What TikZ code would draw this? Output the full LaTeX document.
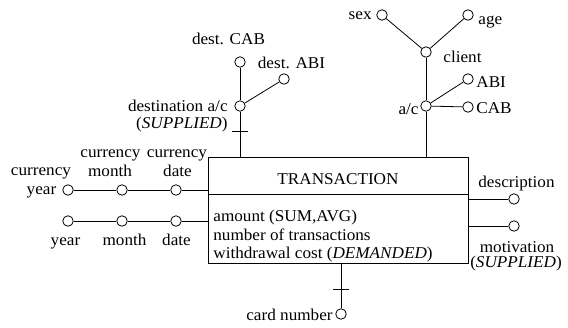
\documentclass[tikz,border=0pt]{standalone}
\usepackage{fontspec}
\setmainfont{Liberation Serif}[FakeStretch=1.04]
\begin{document}
\begin{tikzpicture}[x=1pt,y=-1pt,line width=0.8pt,
  attr/.style={circle,draw,fill=white,minimum size=10.5pt,inner sep=0pt},
  lbl/.style={inner sep=0pt,font=\fontsize{16.5}{19}\selectfont}]
\useasboundingbox (0,0) rectangle (568,327);
% entity box
\node[draw,anchor=north west,minimum width=260pt,minimum height=106pt,inner sep=0pt] (trans) at (208,157) {};
\coordinate (divL) at (208,194);
\coordinate (divR) at (468,194);
\draw (divL) -- (divR);
\node[lbl,anchor=base] (title) at (338,184) {TRANSACTION};
\node[lbl,anchor=base west] (a1) at (213,221) {amount (SUM,AVG)};
\node[lbl,anchor=base west] (a2) at (213,240) {number of transactions};
\node[lbl,anchor=base west] (a3) at (213,258) {withdrawal cost (\textit{DEMANDED})};
% destination a/c
\node[attr] (destac) at (240,106) {};
\node[attr] (destcab) at (240,62) {};
\node[attr] (destabi) at (284,79) {};
\draw (destac) -- (destac |- trans.north);
\draw (destac) -- (destcab);
\draw (destac) -- (destabi);
\coordinate (t1) at (240,131);
\draw ([xshift=-8pt]t1) -- ([xshift=8pt]t1);
\node[lbl,anchor=base] (ldestcab) at (228.5,44) {dest. CAB};
\node[lbl,anchor=base] (ldestabi) at (291.5,68) {dest. ABI};
\node[lbl,anchor=base east] (ldestac) at (228,111) {destination a/c};
\node[lbl,anchor=base east] (ldestsup) at (228,128) {(\textit{SUPPLIED})};
% client hierarchy
\node[attr] (ac) at (426,106) {};
\node[attr] (client) at (426,52) {};
\node[attr] (sex) at (382,15) {};
\node[attr] (age) at (468,15) {};
\node[attr] (abi) at (468,79) {};
\node[attr] (cab) at (468,107) {};
\draw (ac) -- (ac |- trans.north);
\draw (ac) -- (client);
\draw (client) -- (sex);
\draw (client) -- (age);
\draw (ac) -- (abi);
\draw (ac) -- (cab);
\node[lbl,anchor=base east] (lsex) at (372,19) {sex};
\node[lbl,anchor=base west] (lage) at (478,24) {age};
\node[lbl,anchor=base west] (lclient) at (443,62) {client};
\node[lbl,anchor=base west] (labi) at (476,87) {ABI};
\node[lbl,anchor=base west] (lcab) at (476,113) {CAB};
\node[lbl,anchor=base east] (lac) at (419,114) {a/c};
% currency dates
\node[attr] (cy) at (68,190) {};
\node[attr] (cm) at (122,190) {};
\node[attr] (cd) at (176,190) {};
\draw (cy) -- (cm);
\draw (cm) -- (cd);
\draw (cd) -- (cd -| trans.west);
\node[lbl,anchor=base] (lcy1) at (41,175) {currency};
\node[lbl,anchor=base] (lcy2) at (41.5,194) {year};
\node[lbl,anchor=base] (lcm1) at (110.5,157) {currency};
\node[lbl,anchor=base] (lcm2) at (110,176) {month};
\node[lbl,anchor=base] (lcd1) at (177,157) {currency};
\node[lbl,anchor=base] (lcd2) at (177.5,176) {date};
% dates
\node[attr] (y) at (68,221) {};
\node[attr] (m) at (122,221) {};
\node[attr] (d) at (176,221) {};
\draw (y) -- (m);
\draw (m) -- (d);
\draw (d) -- (d -| trans.west);
\node[lbl,anchor=base] (ly) at (65.5,245) {year};
\node[lbl,anchor=base] (lm) at (124.5,245) {month};
\node[lbl,anchor=base] (ld) at (176.5,245) {date};
% right attributes
\node[attr] (desc) at (514,199) {};
\node[attr] (motiv) at (514,226) {};
\draw (desc) -- (desc -| trans.east);
\draw (motiv) -- (motiv -| trans.east);
\node[lbl,anchor=base] (ldesc) at (516.5,187) {description};
\node[lbl,anchor=base] (lmot1) at (517,252) {motivation};
\node[lbl,anchor=base] (lmot2) at (516,267) {(\textit{SUPPLIED})};
% card number
\node[attr] (card) at (341,314) {};
\draw (card) -- (card |- trans.south);
\coordinate (t2) at (341,289);
\draw ([xshift=-8pt]t2) -- ([xshift=8pt]t2);
\node[lbl,anchor=base east] (lcard) at (333,320) {card number};
\end{tikzpicture}
\end{document}
